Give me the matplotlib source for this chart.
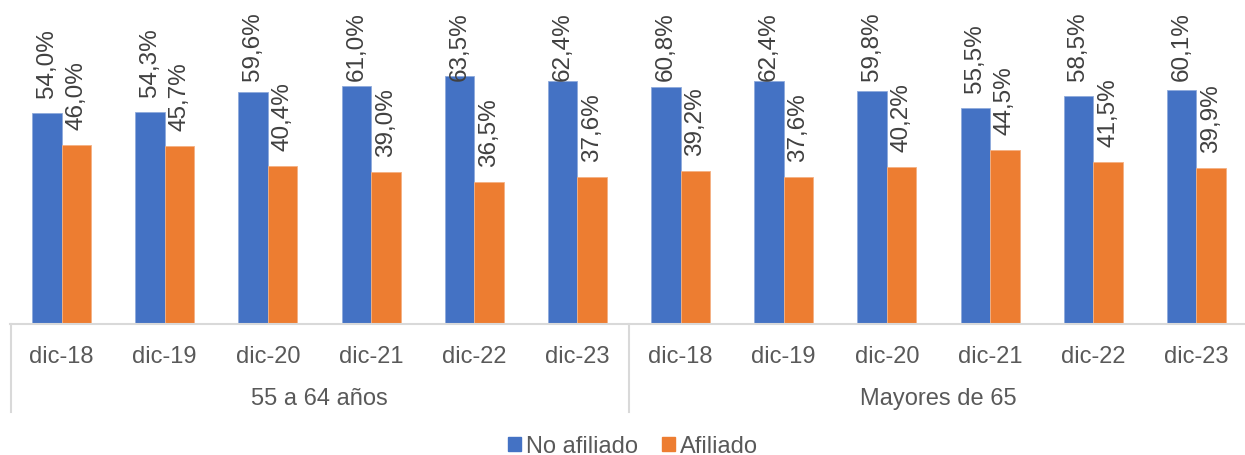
import numpy as np
import matplotlib.pyplot as plt
from matplotlib.patches import Patch
import matplotlib.transforms as mtransforms

plt.rcParams["font.family"] = ["Liberation Sans", "DejaVu Sans"]

periods = ["dic-18", "dic-19", "dic-20", "dic-21", "dic-22", "dic-23"]
age_groups = ["55 a 64 años", "Mayores de 65"]
no_afiliado = [54.0, 54.3, 59.6, 61.0, 63.5, 62.4, 60.8, 62.4, 59.8, 55.5, 58.5, 60.1]
afiliado = [46.0, 45.7, 40.4, 39.0, 36.5, 37.6, 39.2, 37.6, 40.2, 44.5, 41.5, 39.9]

BLUE = "#4472C4"
ORANGE = "#ED7D31"
GRID = "#D9D9D9"
TXT = "#404040"
TICK = "#595959"

W, H = 1245, 456
fig = plt.figure(figsize=(W / 100, H / 100), dpi=100)
ax = fig.add_axes([10 / W, (H - 325) / H, (W - 10) / W, 325 / H])

x = np.arange(len(no_afiliado))
bw = 0.286
b1 = ax.bar(x - bw / 2, no_afiliado, bw, color=BLUE, edgecolor="#8FAADC", linewidth=0.6)
b2 = ax.bar(x + bw / 2, afiliado, bw, color=ORANGE, edgecolor="#F4B183", linewidth=0.6)

labels = []
for bars, vals in ((b1, no_afiliado), (b2, afiliado)):
    for rect, v in zip(bars, vals):
        t = ax.annotate(f"{v:.1f}%".replace(".", ","),
                        (rect.get_x() + rect.get_width() / 2, rect.get_height()),
                        xytext=(0, 11.5), textcoords="offset points",
                        rotation=90, ha="center", va="bottom",
                        fontsize=17.5, color=TXT)
        labels.append(t)

ax.set_xlim(-0.5, 11.5 - 3 / 103.2)
ax.set_ylim(0, 325 / 3.9)
ax.set_yticks([])
ax.set_xticks(x)
ax.set_xticklabels(periods * 2, fontsize=17, color=TICK)
ax.tick_params(axis="x", length=0, pad=15)

for side in ("top", "right", "left"):
    ax.spines[side].set_visible(False)
ax.spines["bottom"].set_color(GRID)
ax.spines["bottom"].set_linewidth(1.5)

# group separators and group names under the period labels
trans = mtransforms.blended_transform_factory(ax.transData, ax.transAxes)
for xs in (-0.5 + 0.01, 5.5):
    ax.plot([xs, xs], [0, -0.27], transform=trans, color=GRID, lw=1.5, clip_on=False)
for i, name in enumerate(age_groups):
    ax.text(2.5 + 6 * i, -0.2277, name, transform=trans, ha="center", va="center",
            fontsize=17, color=TICK)

handles = [Patch(color=BLUE, label="No afiliado"), Patch(color=ORANGE, label="Afiliado")]
fig.legend(handles=handles, loc="center", bbox_to_anchor=(633 / W, (H - 447) / H),
           ncol=2, frameon=False, fontsize=17, handlelength=0.55, handleheight=0.55,
           handletextpad=0.2, columnspacing=1.0, labelcolor=TICK)

# keep tall labels inside the figure: push them down onto the bar if needed
fig.canvas.draw()
renderer = fig.canvas.get_renderer()
top_limit = H - 12
for t in labels:
    top = t.get_window_extent(renderer).y1
    if top > top_limit:
        dx, dy = t.xyann
        t.xyann = (dx, dy - (top - top_limit) * 72 / 100)

fig.savefig("out.png", dpi=100)
